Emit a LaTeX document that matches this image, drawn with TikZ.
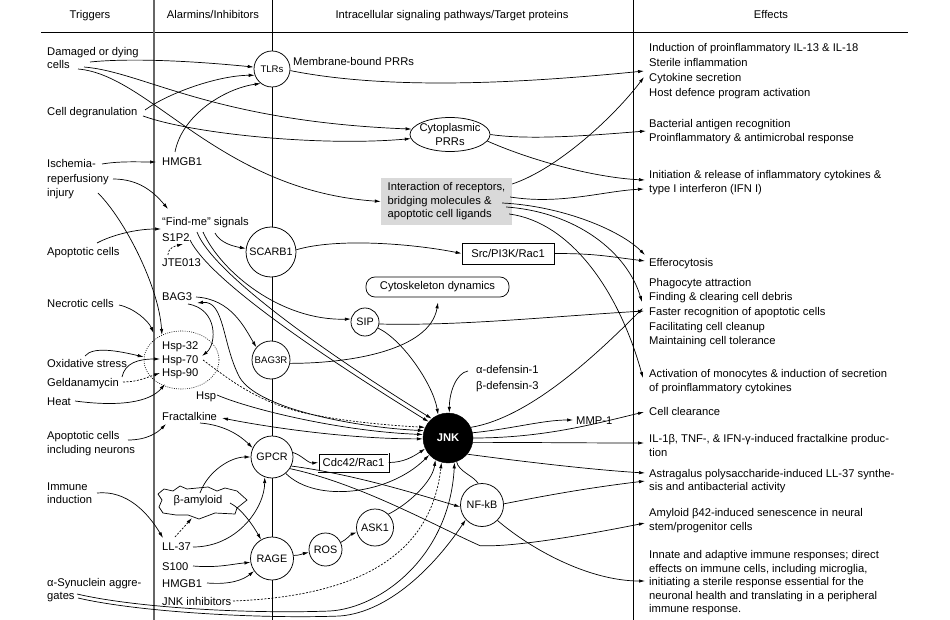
\documentclass[tikz,border=0pt]{standalone}
\usepackage{fontspec}
\setmainfont{Liberation Sans}
\usetikzlibrary{arrows.meta,shapes.geometric,calc}
\newcommand{\fsz}{\fontsize{11.2}{13.5}\selectfont}
\newcommand{\fsm}{\fontsize{9.6}{11}\selectfont}
\newcommand{\fsc}{\fontsize{10.8}{13}\selectfont}
\begin{document}
\begin{tikzpicture}[x=1pt,y=-1pt,
  every node/.style={font=\fsz},
  lbl/.style={anchor=base west, inner sep=1pt},
  hd/.style={anchor=base, inner sep=1pt},
  circ/.style={circle, draw, fill=white, inner sep=0pt, line width=0.75pt, font=\fsc},
  conn/.style={line width=0.7pt},
  arr/.style={conn, -{Latex[length=6pt,width=3.4pt]}},
  darr/.style={conn, {Latex[length=6pt,width=3.4pt]}-{Latex[length=6pt,width=3.4pt]}},
  dsh/.style={dash pattern=on 2pt off 1.5pt},
  dtt/.style={dash pattern=on 0.9pt off 1.3pt},
]
\useasboundingbox (0,0) rectangle (950,620);
\fill[white] (0,0) rectangle (950,620);
% table lines
\draw[line width=0.8pt] (41,32) -- (908,32);
\draw[line width=1.3pt, black!60] (154,0) -- (154,620);
\draw[line width=0.8pt] (272,0) -- (272,620);
\draw[line width=0.8pt] (633,0) -- (633,620);
% headers
\node[hd] (h1) at (90,19) {Triggers};
\node[hd] (h2) at (213,19) {Alarmins/Inhibitors};
\node[hd] (h3) at (452,19) {Intracellular signaling pathways/Target proteins};
\node[hd] (h4) at (771,19) {Effects};
% triggers
\node[lbl] (dmg1) at (46,56) {Damaged or dying};
\node[lbl] (dmg2) at (46,69) {cells};
\node[lbl] (degr) at (46,116) {Cell degranulation};
\node[lbl] (isch1) at (46,168) {Ischemia-};
\node[lbl] (isch2) at (46,183) {reperfusiony};
\node[lbl] (isch3) at (46,197) {injury};
\node[lbl] (apop) at (46,256) {Apoptotic cells};
\node[lbl] (necr) at (46,307) {Necrotic cells};
\node[lbl] (oxid) at (46,367) {Oxidative stress};
\node[lbl] (geld) at (46,386) {Geldanamycin};
\node[lbl] (heat) at (46,405) {Heat};
\node[lbl] (apn1) at (46,439) {Apoptotic cells};
\node[lbl] (apn2) at (46,453) {including neurons};
\node[lbl] (imm1) at (46,490) {Immune};
\node[lbl] (imm2) at (46,503) {induction};
\node[lbl] (syn1) at (46,586) {α-Synuclein aggre-};
\node[lbl] (syn2) at (46,599) {gates};
% alarmins
\node[lbl] (hmgb) at (161,166) {HMGB1};
\node[lbl] (find) at (161,226) {“Find-me” signals};
\node[lbl] (s1p2) at (161,242) {S1P2};
\node[lbl] (jte) at (161,266) {JTE013};
\node[lbl] (bag3) at (161,301) {BAG3};
\node[lbl] (hsp32) at (161,349) {Hsp-32};
\node[lbl] (hsp70) at (161,363) {Hsp-70};
\node[lbl] (hsp90) at (161,376) {Hsp-90};
\node[lbl] (hsp) at (195,399) {Hsp};
\node[lbl] (frac) at (161,420) {Fractalkine};
\node[lbl] (ll37) at (161,550) {LL-37};
\node[lbl] (s100) at (161,570) {S100};
\node[lbl] (hmgb2) at (161,587) {HMGB1};
\node[lbl] (jnki) at (161,605) {JNK inhibitors};
\node[ellipse, draw, dtt, line width=0.6pt, minimum width=75pt, minimum height=58pt, inner sep=0pt] (hspell) at (181.5,360) {};
\coordinate (amyc) at (200,501);
\begin{scope}[shift={(amyc)}]
\draw[line width=0.7pt, fill=white] (-42,-7) -- (-36,-12) -- (-27,-10) -- (-20,-15) -- (-13,-12) -- (8,-14) -- (17,-10) -- (25,-13) -- (37,-10) -- (47,-1) -- (37,7) -- (35,13) -- (15,12) -- (-1,18) -- (-12,14) -- (-24,14) -- (-37,12) -- (-41,6) -- (-38,-1) -- cycle;
\end{scope}
\node[inner sep=1pt] (amy) at ($(amyc)+(-2,0)$) {β-amyloid};
% pathway nodes
\node[circ, minimum size=36pt, font=\fsm] (tlr) at (272,69) {TLRs};
\node[lbl] (memb) at (292,66) {Membrane-bound PRRs};
\node[ellipse, draw, fill=white, line width=0.75pt, inner xsep=-3pt, inner ysep=0pt, minimum width=80pt, minimum height=34pt, align=center, font=\fontsize{11.2}{14}\selectfont] (cyto) at (450,134.5) {Cytoplasmic\\PRRs};
\node[fill=black!15, minimum width=131pt, minimum height=47pt, align=left, inner sep=0pt, font=\fontsize{11.2}{13.5}\selectfont] (box) at (446.5,201.5) {Interaction of receptors,\\bridging molecules \&\\apoptotic cell ligands};
\node[circ, minimum size=50pt] (scarb) at (271,252) {SCARB1};
\node[draw, line width=0.75pt, minimum width=92pt, minimum height=21pt, inner sep=0pt] (src) at (508,253.5) {Src/PI3K/Rac1};
\node[draw, line width=0.75pt, rounded corners=9pt, minimum width=143pt, minimum height=20pt, inner sep=0pt] (cytosk) at (437.5,287) {Cytoskeleton dynamics};
\node[circ, minimum size=28pt] (sip) at (365,322) {SIP};
\node[circ, minimum size=38pt, font=\fsm] (bag3r) at (271,360) {BAG3R};
\node[lbl] (adef) at (475,373) {α-defensin-1};
\node[lbl] (bdef) at (475,389) {β-defensin-3};
\node[circle, draw, fill=black, minimum size=50pt, inner sep=0pt, text=white, font=\fsz\bfseries] (jnk) at (448,438) {JNK};
\node[lbl] (mmp) at (575,424) {MMP-1};
\node[circ, minimum size=42pt] (gpcr) at (272,457) {GPCR};
\node[draw, double, double distance=1pt, line width=0.5pt, minimum width=70pt, minimum height=18pt, inner sep=0pt] (cdc) at (353.5,462.5) {Cdc42/Rac1};
\node[circ, minimum size=43pt] (nfkb) at (482,505) {NF-kB};
\node[circ, minimum size=37pt] (ask) at (375,527.5) {ASK1};
\node[circ, minimum size=33pt] (ros) at (325.5,549.5) {ROS};
\node[circ, minimum size=43pt] (rage) at (272,558.5) {RAGE};
% effects
\node[lbl] (e1) at (648,52) {Induction of proinflammatory IL-13 \& IL-18};
\node[lbl] (e2) at (648,67) {Sterile inflammation};
\node[lbl] (e3) at (648,82) {Cytokine secretion};
\node[lbl] (e4) at (648,97) {Host defence program activation};
\node[lbl] (e5) at (648,128) {Bacterial antigen recognition};
\node[lbl] (e6) at (648,142) {Proinflammatory \& antimicrobal response};
\node[lbl] (e7) at (648,179) {Initiation \& release of inflammatory cytokines \&};
\node[lbl] (e8) at (648,193) {type I interferon (IFN I)};
\node[lbl] (e9) at (648,266) {Efferocytosis};
\node[lbl] (e10) at (648,287) {Phagocyte attraction};
\node[lbl] (e11) at (648,301) {Finding \& clearing cell debris};
\node[lbl] (e12) at (648,316) {Faster recognition of apoptotic cells};
\node[lbl] (e13) at (648,330) {Facilitating cell cleanup};
\node[lbl] (e14) at (648,344) {Maintaining cell tolerance};
\node[lbl] (e15) at (648,377) {Activation of monocytes \& induction of secretion};
\node[lbl] (e16) at (648,391) {of proinflammatory cytokines};
\node[lbl] (e17) at (648,415) {Cell clearance};
\node[lbl] (e18) at (648,442) {IL-1β, TNF-, \& IFN-γ-induced fractalkine produc-};
\node[lbl] (e19) at (648,456) {tion};
\node[lbl] (e20) at (648,477) {Astragalus polysaccharide-induced LL-37 synthe-};
\node[lbl] (e21) at (648,490) {sis and antibacterial activity};
\node[lbl] (e22) at (648,516) {Amyloid β42-induced senescence in neural};
\node[lbl] (e23) at (648,530) {stem/progenitor cells};
\node[lbl] (e24) at (648,558) {Innate and adaptive immune responses; direct};
\node[lbl] (e25) at (648,572) {effects on immune cells, including microglia,};
\node[lbl] (e26) at (648,585) {initiating a sterile response essential for the};
\node[lbl] (e27) at (648,599) {neuronal health and translating in a peripheral};
\node[lbl] (e28) at (648,612) {immune response.};
% ---------- connectors: triggers ----------
\draw[arr] ($(dmg2.base west)+(44,-7)$) .. controls +(50,-5) and +(-40,-4) .. (tlr.174);
\draw[arr] ($(dmg2.base west)+(38,-2)$) .. controls +(60,5) and +(-200,-8) .. (cyto.172);
\draw[arr] ($(dmg2.base west)+(32,0)$) .. controls +(72,6) and +(-161,-11) .. (box.west);
\draw[arr] ($(degr.base west)+(99,-6)$) .. controls +(25,-18) and +(-35,0) .. (tlr.200);
\draw[arr] ($(degr.base west)+(97,0)$) .. controls +(50,18) and +(-90,8) .. (cyto.186);
\draw[arr] ($(hmgb.base west)+(14,-14)$) .. controls +(7,-37) and +(-36,5) .. (tlr.232);
\draw[arr] ($(isch1.base west)+(56,-4)$) .. controls +(18,-3) and +(-18,0) .. ($(hmgb.base west)+(-5,-4)$);
\draw[arr] ($(isch2.base west)+(67,-4)$) .. controls +(25,0) and +(-15,-18) .. ($(find.base west)+(7,-17)$);
\draw[arr] ($(isch3.base west)+(52,-4)$) .. controls +(27,27) and +(-3,-48) .. (hspell.128);
\draw[arr] ($(apop.base west)+(51,-13)$) .. controls +(15,-8) and +(-25,0) .. ($(s1p2.base west)+(0,-13)$);
\draw[arr,dsh] ($(jte.base west)+(7,-11)$) .. controls +(0,-7) and +(-8,2) .. ($(s1p2.base west)+(22,2)$);
\draw[arr] ($(necr.base west)+(73,-2)$) .. controls +(15,3) and +(-5,-12) .. ($(hspell.center)+(-28,-27)$);
\draw[arr] ($(oxid.base west)+(39,-11)$) .. controls +(8,-10) and +(-25,-6) .. ($(hspell.west)+(0,-3)$);
\draw[arr] ($(geld.base west)+(76,-9)$) .. controls +(3,-14) and +(-22,0) .. ($(hsp70.base west)+(-1,-4)$);
\draw[arr,dsh] ($(geld.base west)+(77,-4)$) .. controls +(15,0) and +(-12,4) .. ($(hsp90.base west)+(-1,-3)$);
\draw[arr] ($(heat.base west)+(29,-4)$) .. controls +(45,6) and +(-15,18) .. ($(hspell.center)+(-16.5,24)$);
\draw[arr] ($(apn1.base west)+(82,1)$) .. controls +(20,0) and +(-8,8) .. ($(frac.base west)+(5,4)$);
\draw[arr] ($(imm1.base west)+(51,3)$) .. controls +(30,-3) and +(-15,-25) .. ($(ll37.base west)+(2,-12)$);
\draw[arr] ($(syn2.base west)+(31,-5)$) .. controls +(60,14) and +(-80,3) .. ++(253,17) .. controls +(50,-3) and +(-5,95) .. (jnk.285);
\draw[arr] ($(syn2.base west)+(32,-1)$) .. controls +(60,14) and +(-80,3) .. ++(262,18) .. controls +(50,-4) and +(-30,45) .. (nfkb.222);
% ---------- connectors: alarmins ----------
\draw[arr] ($(find.base west)+(54,7)$) .. controls +(5,10) and +(-12,-2) .. (scarb.172);
\draw[arr] ($(find.base west)+(42,6)$) .. controls +(18,40) and +(-70,2) .. (sip.168);
\draw[arr] ($(find.base west)+(36,6)$) .. controls +(15,40) and +(-110,-68) .. (jnk.130);
\draw[arr] ($(s1p2.base west)+(29,-2)$) .. controls +(20,40) and +(-110,-68) .. (jnk.140);
\draw[arr] ($(bag3.base west)+(35,-4)$) .. controls +(35,2) and +(-12,-20) .. (bag3r.139);
\draw[arr] ($(bag3.base west)+(27,3)$) .. controls +(30,5) and +(15,-12) .. ($(hsp70.base west)+(41,-7)$);
\draw[darr] ($(bag3.base west)+(36,2)$) .. controls +(28,-3) and +(-18,-33) .. ++(43,75) .. controls +(20,32) and +(-64,-3) .. (jnk.163);
\draw[arr,dsh] ($(hsp70.base west)+(42,-3)$) .. controls +(27,20) and +(-45,-12) .. ++(97,52) .. controls +(45,10) and +(-35,-2) .. (jnk.155);
\draw[arr] ($(hsp.base west)+(22,-4)$) .. controls +(35,15) and +(-80,-3) .. (jnk.172);
\draw[darr] ($(frac.base west)+(61,-2)$) .. controls +(40,8) and +(-80,0) .. (jnk.182);
\draw[arr] ($(frac.base west)+(39,3)$) .. controls +(25,2) and +(-12,-12) .. (gpcr.155);
\draw[arr,dsh] ($(ll37.base west)+(14,-13)$) -- ($(amy.center)+(-6,17)$);
\draw[arr] ($(ll37.base west)+(32,-3)$) .. controls +(45,0) and +(0,30) .. (gpcr.250);
\draw[arr] ($(amy.center)+(2,-8)$) .. controls +(8,-22) and +(-20,0) .. (gpcr.180);
\draw[arr] ($(amy.center)+(32,2)$) .. controls +(12,6) and +(-8,-14) .. (rage.120);
\draw[arr] ($(s100.base west)+(32,-4)$) .. controls +(25,2) and +(-20,2) .. (rage.190);
\draw[arr] ($(hmgb2.base west)+(46,-4)$) .. controls +(25,2) and +(-10,8) .. (rage.215);
\draw[arr,dsh] ($(jnki.base west)+(72,-4)$) .. controls +(130,-5) and +(-10,90) .. (jnk.255);
% ---------- connectors: pathways ----------
\draw[arr] (scarb.5) .. controls +(40,-12) and +(-50,-10) .. (src.west);
\draw[arr] (src.east) .. controls +(40,0) and +(-40,-5) .. ($(e9.base west)+(-3,-5)$);
\draw[arr] (sip.-8) .. controls +(80,2) and +(-100,6) .. ($(e12.base west)+(-4,-5)$);
\draw[arr] (bag3r.-10) .. controls +(60,0) and +(-8,48) .. ($(cytosk.south)+(0.5,5)$);
\draw[arr] (sip.-25) .. controls +(25,12) and +(-5,-30) .. (jnk.113);
\draw[arr] ($(adef.base west)+(-7,-2)$) .. controls +(-12,2) and +(0,-20) .. (jnk.87);
\draw[arr] (tlr.-5) .. controls +(100,20) and +(-120,12) .. ($(e2.base west)+(-4,4)$);
\draw[arr] (cyto.east) .. controls +(40,6) and +(-50,4) .. ($(e5.base west)+(-2,3)$);
\draw[arr] (cyto.-10) .. controls +(50,22) and +(-45,-2) .. ($(e7.base west)+(-3,1)$);
\draw[arr] ($(box.east)+(0,-17.5)$) .. controls +(45,-15) and +(-30,40) .. ($(e3.base west)+(-4,-5)$);
\draw[arr] ($(box.east)+(-2,-4.5)$) .. controls +(50,8) and +(-40,2) .. ($(e8.base west)+(-4,-4)$);
\draw[arr] ($(box.east)+(-10,1.5)$) .. controls +(60,3) and +(-25,-25) .. ($(e9.base west)+(-3,-11)$);
\draw[arr] ($(box.east)+(-6,5.5)$) .. controls +(70,5) and +(-15,-50) .. ($(e12.base west)+(-6,-14)$);
\draw[arr] ($(box.east)+(-3,12.5)$) .. controls +(60,8) and +(-25,-90) .. ($(e15.base west)+(-5,1)$);
\draw[arr] (jnk.25) .. controls +(60,-10) and +(-45,45) .. ($(e12.base west)+(-5,-8)$);
\draw[arr] (jnk.12) .. controls +(40,-4) and +(-30,0) .. ($(mmp.base west)+(-2,-4)$);
\draw[arr] (jnk.0) .. controls +(70,0) and +(-50,12) .. ($(e17.base west)+(-4,-3)$);
\draw[arr] (jnk.-10) .. controls +(60,0) and +(-60,0) .. ($(e18.base west)+(-4,1)$);
\draw[arr] (jnk.-40) .. controls +(60,8) and +(-50,-3) .. ($(e20.base west)+(-3,-4)$);
\draw[arr] (nfkb.3) .. controls +(50,-10) and +(-50,6) .. ($(e20.base west)+(-3,4)$);
\draw[conn] (jnk.-70) .. controls +(2,10) and +(-5,-8) .. (nfkb.100);
\draw[arr] (nfkb.-45) .. controls +(35,30) and +(-55,0) .. ($(e26.base west)+(-3,-4)$);
\draw[arr] (gpcr.-33) .. controls +(70,15) and +(-45,-20) .. ++(190,77) .. controls +(35,2) and +(-50,10) .. ($(e22.base west)+(-3,7)$);
\draw[arr] (gpcr.-25) .. controls +(60,8) and +(-50,-15) .. (nfkb.185);
\draw[arr] (gpcr.12) .. controls +(8,2) and +(-10,1) .. (cdc.west);
\draw[arr] (cdc.east) .. controls +(15,0) and +(-12,8) .. (jnk.205);
\draw[arr] (gpcr.-50) .. controls +(30,30) and +(-40,40) .. (jnk.222);
\draw[arr] (ask.45) .. controls +(20,-10) and +(-3,22) .. (jnk.240);
\draw[arr] (ros.25) .. controls +(6,-3) and +(-6,2) .. (ask.195);
\draw[arr] (rage.8) .. controls +(6,0) and +(-5,1) .. (ros.190);
\end{tikzpicture}
\end{document}
